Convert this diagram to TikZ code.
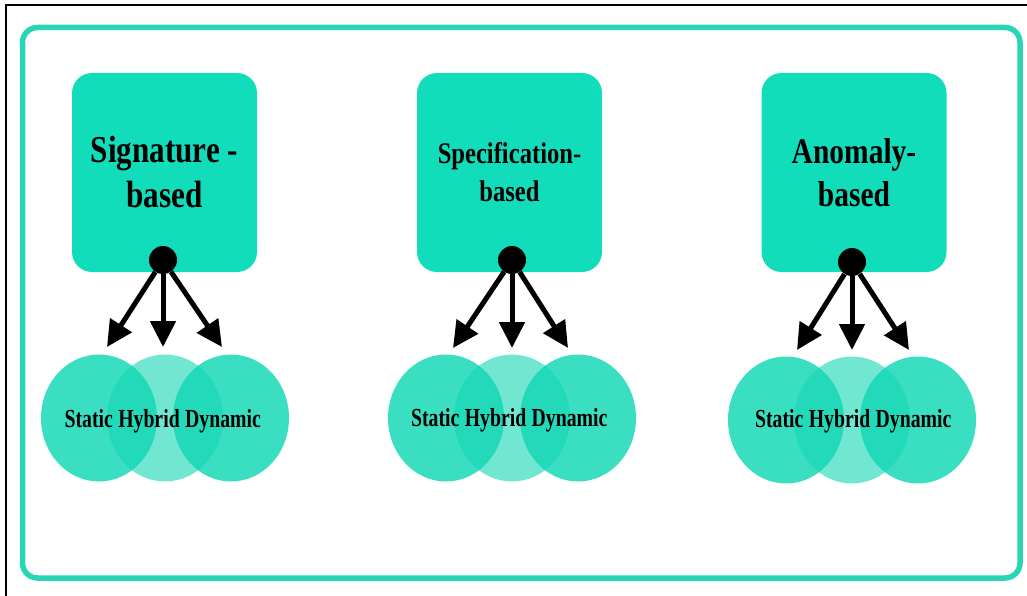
\documentclass[tikz,border=0pt]{standalone}
\usepackage{fontspec}
\setmainfont{Liberation Serif}
\usetikzlibrary{positioning, arrows.meta, shapes.geometric}
\definecolor{boxteal}{RGB}{18,221,187}
\definecolor{lensteal}{RGB}{18,215,180}
\definecolor{frameteal}{RGB}{40,214,182}
\newcommand{\squeezetext}[1]{\scalebox{0.82}[1]{#1}}
\newcommand{\squeezelabel}[1]{\scalebox{0.76}[1]{#1}}

\begin{document}
\begin{tikzpicture}[
  x=1pt, y=-1pt,
  method/.style={
    fill=boxteal,
    rounded corners=20pt,
    align=center,
    minimum width=185pt,
    minimum height=199pt,
    inner sep=0pt
  },
  hub/.style={circle, fill=black, minimum size=28pt, inner sep=0pt},
  lens/.style={ellipse, fill=lensteal, minimum width=116pt, minimum height=127pt, inner sep=0pt},
  kind/.style={inner sep=0pt, font=\bfseries\fontsize{26}{30}\selectfont},
  flow/.style={-{Triangle[length=26pt, width=25pt]}, line width=5pt}
]
\useasboundingbox (0,0) rectangle (1027,596);
\draw[line width=2pt] (6,596) -- (6,5) -- (1027,5);
\draw[frameteal, line width=5.5pt, rounded corners=15pt] (22.5,27.5) rectangle (1020,578);

\node[method, font=\bfseries\fontsize{38}{45}\selectfont] (sig) at (164.5,172.5)
  {\squeezetext{Signature -}\\\squeezetext{based}};
\node[method, font=\bfseries\fontsize{30}{38}\selectfont] (spec) at (509.5,172.5)
  {\squeezetext{Specification-}\\\squeezetext{based}};
\node[method, font=\bfseries\fontsize{36}{43}\selectfont] (anom) at (854,172.5)
  {\squeezetext{Anomaly-}\\\squeezetext{based}};

\node[hub] (sighub) at (163,260) {};
\node[hub] (spechub) at (512,260) {};
\node[hub] (anomhub) at (852,262) {};

\coordinate (sigl) at (107,347);
\coordinate (sigm) at (163,347);
\coordinate (sigr) at (222,347);
\coordinate (specl) at (453,348);
\coordinate (specm) at (512,348);
\coordinate (specr) at (568,348);
\coordinate (anoml) at (797,350);
\coordinate (anomm) at (852,350);
\coordinate (anomr) at (909,350);

\draw[flow] (sighub) -- (sigl);
\draw[flow] (sighub) -- (sigm);
\draw[flow] (sighub) -- (sigr);
\draw[flow] (spechub) -- (specl);
\draw[flow] (spechub) -- (specm);
\draw[flow] (spechub) -- (specr);
\draw[flow] (anomhub) -- (anoml);
\draw[flow] (anomhub) -- (anomm);
\draw[flow] (anomhub) -- (anomr);

\node[lens, fill opacity=0.83] (sigs) at (99,418) {};
\node[lens, fill opacity=0.6] (sigh) at (165,418) {};
\node[lens, fill opacity=0.83] (sigd) at (231,418) {};
\node[lens, fill opacity=0.83] (specs) at (446,418) {};
\node[lens, fill opacity=0.6] (spech) at (512,418) {};
\node[lens, fill opacity=0.83] (specd) at (578,418) {};
\node[lens, fill opacity=0.83] (anoms) at (786,420) {};
\node[lens, fill opacity=0.6] (anomh) at (852,420) {};
\node[lens, fill opacity=0.83] (anomd) at (918,420) {};

\node[kind, anchor=base] (sighybrid) at (149,427) {\squeezelabel{Hybrid}};
\node[kind, base left=5pt of sighybrid] (sigstatic) {\squeezelabel{Static}};
\node[kind, base right=5pt of sighybrid] (sigdynamic) {\squeezelabel{Dynamic}};
\node[kind, anchor=base] (spechybrid) at (495.5,426) {\squeezelabel{Hybrid}};
\node[kind, base left=5pt of spechybrid] (specstatic) {\squeezelabel{Static}};
\node[kind, base right=5pt of spechybrid] (specdynamic) {\squeezelabel{Dynamic}};
\node[kind, anchor=base] (anomhybrid) at (839.5,427) {\squeezelabel{Hybrid}};
\node[kind, base left=5pt of anomhybrid] (anomstatic) {\squeezelabel{Static}};
\node[kind, base right=5pt of anomhybrid] (anomdynamic) {\squeezelabel{Dynamic}};
\end{tikzpicture}
\end{document}
